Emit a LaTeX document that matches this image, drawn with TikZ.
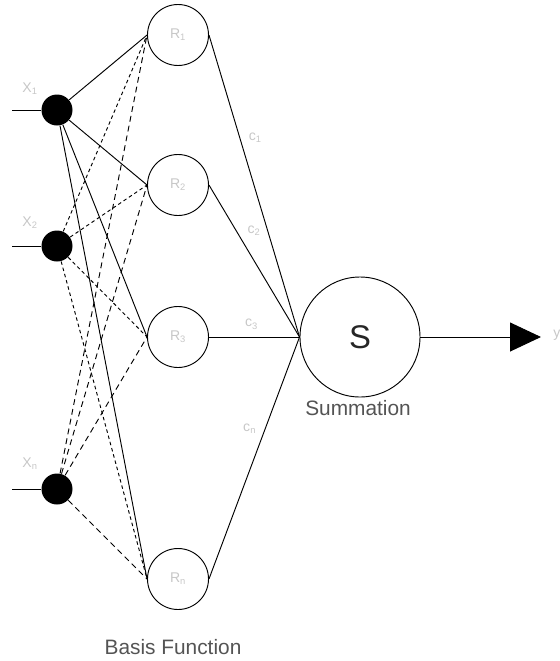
\documentclass[tikz,border=0pt]{standalone}
\usepackage{fontspec}
\setmainfont{Liberation Sans}
\usetikzlibrary{arrows.meta}
\definecolor{faintgray}{gray}{0.78}
\definecolor{captiongray}{gray}{0.33}
\tikzset{every picture/.style={line width=0.8pt,x=0.03cm,y=-0.03cm},
  inputdot/.style={circle,fill=black,minimum size=0.93cm,inner sep=0pt},
  basisnode/.style={circle,draw,minimum size=1.83cm,inner sep=0pt,text=faintgray,font=\fontsize{12}{14}\selectfont},
  faint/.style={text=faintgray,font=\fontsize{12}{14}\selectfont},
  caption/.style={text=captiongray,font=\fontsize{17.8}{20}\selectfont},
  shortdash/.style={dash pattern=on 3pt off 2.5pt},
  longdash/.style={dash pattern=on 5pt off 3.5pt}}
\begin{document}
\begin{tikzpicture}
\useasboundingbox (0,0) rectangle (560,661);
% inputs
\node[inputdot] (x1) at (57,110) {};
\node[inputdot] (x2) at (57,246) {};
\node[inputdot] (xn) at (57,489) {};
\coordinate (in1) at (12,110);
\coordinate (in2) at (12,246);
\coordinate (inn) at (12,489);
\node[faint] at (30,89) {X\textsubscript{1}};
\node[faint] at (30,223) {X\textsubscript{2}};
\node[faint] at (30,464) {X\textsubscript{n}};
% basis functions
\node[basisnode] (r1) at (178,35) {R\textsubscript{1}};
\node[basisnode] (r2) at (178,185) {R\textsubscript{2}};
\node[basisnode] (r3) at (178,337) {R\textsubscript{3}};
\node[basisnode] (rn) at (178,579) {R\textsubscript{n}};
\node[caption] at (173,647) {Basis Function};
% summation
\node[circle,draw,minimum size=3.6cm,font=\fontsize{28}{30}\selectfont,text=black!85] (sum) at (360,337) {S};
\node[caption] at (358,408) {Summation};
\coordinate (out) at (541,337);
\node[faint,anchor=west] at (549,335) {y};

\foreach \i in {1,2,n} \draw (in\i) -- (x\i);
\foreach \r in {r1,r2,r3,rn} {
  \draw (x1) -- (\r.west);
  \draw[shortdash] (x2) -- (\r.west);
  \draw[longdash] (xn) -- (\r.west);
}
\draw (r1.east) -- (sum.west) node[faint,pos=0.34,right=4pt] {c\textsubscript{1}};
\draw (r2.east) -- (sum.west) node[faint,pos=0.3,right=6pt] {c\textsubscript{2}};
\draw (r3.east) -- (sum.west) node[faint,pos=0.47,above=3pt] {c\textsubscript{3}};
\draw (rn.east) -- (sum.west) node[faint,pos=0.62,left=4pt] {c\textsubscript{n}};
\draw[-{Triangle[length=0.93cm,width=0.87cm]}] (sum.east) -- (out);
\end{tikzpicture}
\end{document}
